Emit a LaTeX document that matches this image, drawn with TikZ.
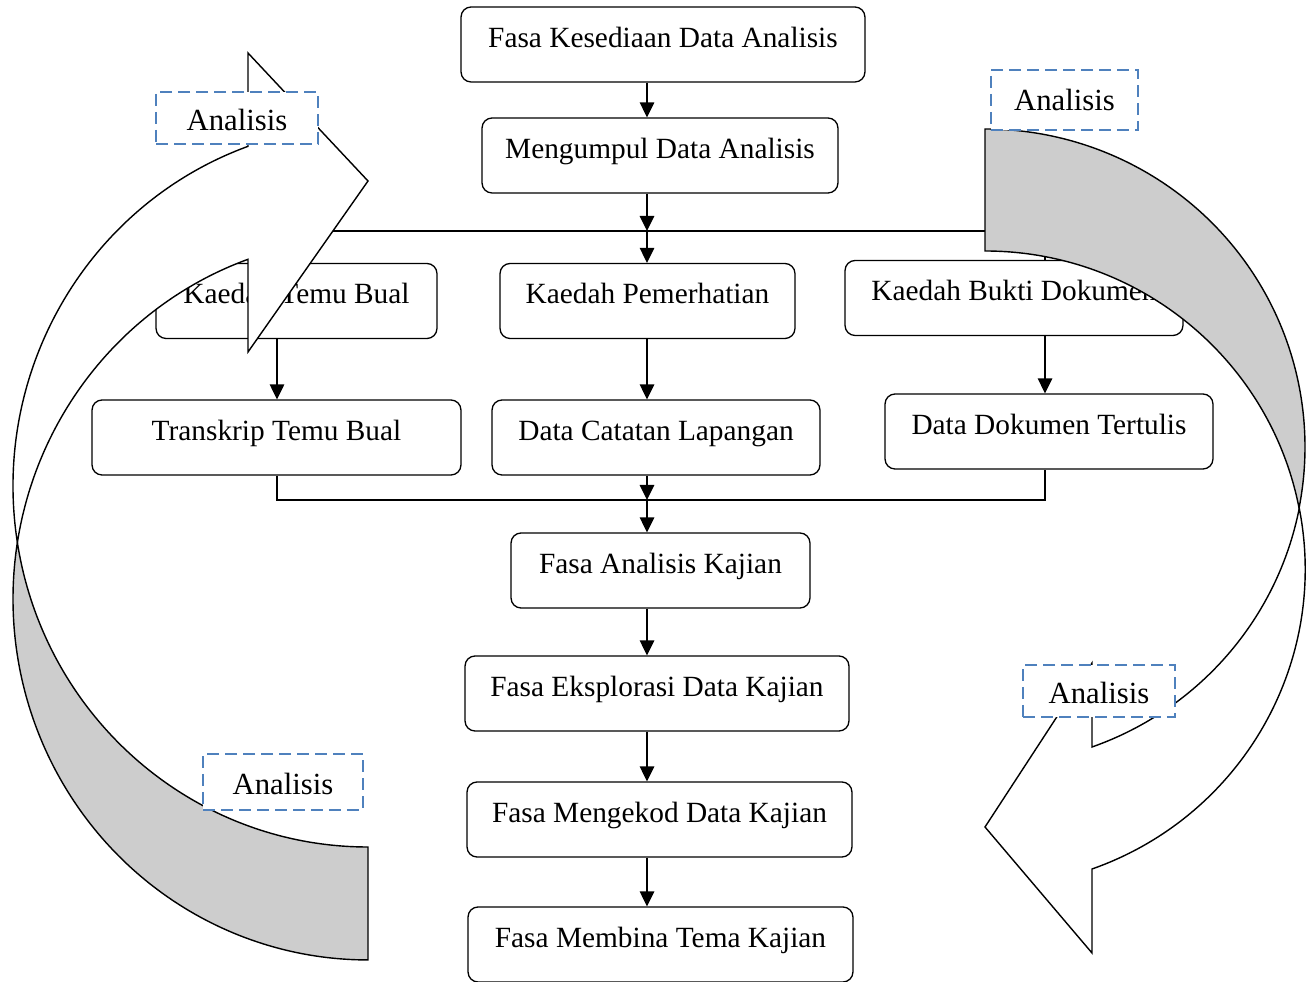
\documentclass[tikz,border=0pt]{standalone}
\usepackage{fontspec}
\setmainfont{Liberation Serif}
\usetikzlibrary{positioning, calc, arrows.meta}
\definecolor{dashblue}{RGB}{79,129,189}
\definecolor{backgray}{RGB}{205,205,205}

\begin{document}
\begin{tikzpicture}[
    x=0.02cm, y=-0.02cm,
    stage/.style={draw, fill=white, rounded corners=0.2cm, line width=0.75pt,
      inner ysep=0pt, text height=0.81cm, text depth=0.69cm,
      font=\fontsize{16.7}{20}\selectfont},
    flow/.style={line width=0.85pt, -{Triangle[length=0.3cm, width=0.29cm]}},
    link/.style={line width=0.85pt},
    bendfront/.style={draw, line width=0.8pt, fill=white},
    bendback/.style={draw, line width=0.8pt, fill=backgray},
    tag/.style={draw=dashblue, fill=white, line width=1.2pt,
      dash pattern=on 0.24cm off 0.12cm, inner sep=0pt,
      text height=0.5cm, text depth=0pt,
      font=\fontsize{17.5}{20}\selectfont}
  ]
  \useasboundingbox (0,0) rectangle (1316,982);

  \coordinate (spine) at (647,0);
  \coordinate (lcol) at (277,0);
  \coordinate (rcol) at (1045,0);
  \coordinate (jtop) at (647,231);
  \coordinate (jbot) at (647,500);

  % stages
  \node[stage, minimum width=8.08cm] (kesediaan) at (663,44.5) {Fasa Kesediaan Data Analisis};
  \node[stage, minimum width=7.12cm] (mengumpul) at (660,155.5) {Mengumpul Data Analisis};
  \node[stage, minimum width=5.62cm] (temubual) at (296.5,301) {Kaedah Temu Bual};
  \node[stage, minimum width=5.9cm] (pemerhatian) at (647.5,301) {Kaedah Pemerhatian};
  \node[stage, minimum width=6.76cm] (dokumen) at (1014,298) {Kaedah Bukti Dokumen};
  \node[stage, minimum width=7.38cm] (transkrip) at (276.5,437.5) {Transkrip Temu Bual};
  \node[stage, minimum width=6.56cm] (catatan) at (656,437.5) {Data Catatan Lapangan};
  \node[stage, minimum width=6.56cm] (tertulis) at (1049,431.5) {Data Dokumen Tertulis};
  \node[stage, minimum width=5.98cm] (analisis) at (660.5,570.5) {Fasa Analisis Kajian};
  \node[stage, minimum width=7.68cm] (eksplorasi) at (657,693.5) {Fasa Eksplorasi Data Kajian};
  \node[stage, minimum width=7.7cm] (mengekod) at (659.5,819.5) {Fasa Mengekod Data Kajian};
  \node[stage, minimum width=7.7cm] (membina) at (660.5,944.5) {Fasa Membina Tema Kajian};

  % connectors
  \draw[flow] (kesediaan.south -| spine) -- (mengumpul.north -| spine);
  \draw[flow] (mengumpul.south -| spine) -- (jtop);
  \draw[flow] (jtop) -- (pemerhatian.north -| spine);
  \draw[link] (temubual.north -| lcol) -- (lcol |- jtop) -- (rcol |- jtop) -- (dokumen.north -| rcol);
  \draw[flow] (temubual.south -| lcol) -- (transkrip.north -| lcol);
  \draw[flow] (pemerhatian.south -| spine) -- (catatan.north -| spine);
  \draw[flow] (dokumen.south -| rcol) -- (tertulis.north -| rcol);
  \draw[link] (transkrip.south -| lcol) -- (lcol |- jbot) -- (rcol |- jbot) -- (tertulis.south -| rcol);
  \draw[flow] (catatan.south -| spine) -- (jbot);
  \draw[flow] (jbot) -- (analisis.north -| spine);
  \foreach \a/\b in {analisis/eksplorasi, eksplorasi/mengekod, mengekod/membina}
    \draw[flow] (\a.south -| spine) -- (\b.north -| spine);

  % left curved arrow
  \path[bendback] (368,847)
    arc[start angle=90, end angle=171, x radius=355, y radius=361]
    arc[start angle=189, end angle=90, x radius=355, y radius=361] -- cycle;
  \path[bendfront] (248,53) -- (368,181) -- (248,352) -- (248,259.3)
    arc[start angle=250.24, end angle=189, x radius=355, y radius=361]
    arc[start angle=171, end angle=250.24, x radius=355, y radius=361] -- cycle;

  % right curved arrow
  \path[bendback] (985,129)
    arc[start angle=-90, end angle=11.06, x radius=320, y radius=318]
    arc[start angle=-11.06, end angle=-90, x radius=320, y radius=318] -- cycle;
  \path[bendfront] (1092,747) -- (1092,663) -- (985,827) -- (1092,953) -- (1092,869)
    arc[start angle=70.5, end angle=-11.06, x radius=320, y radius=318]
    arc[start angle=11.06, end angle=70.5, x radius=320, y radius=318] -- cycle;

  % labels
  \node[tag, minimum width=3.24cm, minimum height=1.04cm] (tagnw) at (237,118) {Analisis};
  \node[tag, minimum width=2.94cm, minimum height=1.2cm, text height=0.41cm] (tagne) at (1064.5,100) {Analisis};
  \node[tag, minimum width=3.04cm, minimum height=1.04cm] (tagse) at (1099,691) {Analisis};
  \node[tag, minimum width=3.2cm, minimum height=1.12cm] (tagsw) at (283,782) {Analisis};
\end{tikzpicture}
\end{document}
